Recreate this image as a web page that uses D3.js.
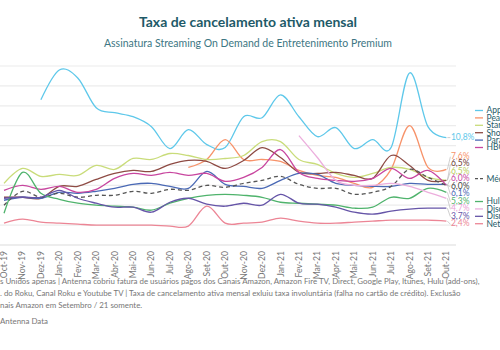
<!DOCTYPE html>
<html>
<head>
<meta charset="utf-8">
<script src="https://cdn.jsdelivr.net/npm/d3@7"></script>
<style>
  body { margin: 0; overflow: hidden; background: #fff; }
  svg { display: block; }
</style>
</head>
<body>
<svg></svg>
<script>
var months = ["Oct-19", "Nov-19", "Dez-19", "Jan-20", "Fev-20", "Mar-20", "Abr-20", "Mai-20", "Jun-20",
  "Jul-20", "Ago-20", "Set-20", "Out-20", "Nov-20", "Dez-20", "Jan-21", "Fev-21", "Mar-21", "Apr-21",
  "Mai-21", "Jun-21", "Jul-21", "Ago-21", "Set-21", "Out-21"];

var apple     = [null, null, 14.6, 17.6, 16.8, 13.8, 13.3, 12.9, 11.9, 9.7, 11.6, 10.1, 9.8, 12.9, 12.8, 15.1, 12.9, 10.9, 11.8, 9.7, 10.6, 9.8, 17.3, 11.9, 10.8];
var peacock   = [null, null, null, null, null, null, null, null, null, null, 7.8, 8.6, 10.6, 8.6, 8.6, 8.4, 7.5, 7.0, 6.8, 6.2, 5.8, 7.6, 12.0, 7.8, 7.6];
var starz     = [6.2, 7.7, 6.9, 7.1, 7.0, 8.0, 7.6, 8.7, 8.6, 9.2, 9.0, 8.6, 8.7, 9.0, 10.4, 10.4, 8.6, 8.1, 7.2, 6.8, 7.2, 7.8, 7.6, 6.8, 6.5];
var showtime  = [4.8, 4.8, 4.7, 5.9, 5.9, 6.6, 7.2, 7.5, 7.4, 8.1, 8.5, 8.4, 7.7, 8.5, 9.8, 8.8, 7.3, 7.2, 7.3, 7.0, 6.7, 9.0, 8.0, 6.5, 6.5];
var paramount = [4.5, 4.8, 4.7, 5.3, 5.2, 5.4, 5.7, 6.1, 6.2, 5.9, 5.7, 7.4, 6.1, 5.9, 5.7, 6.5, 7.2, 7.1, 6.2, 6.0, 5.9, 5.9, 6.2, 6.1, 6.1];
var hboMax    = [5.5, 6.0, 5.6, 5.9, 5.3, 5.6, 6.7, 7.2, 7.0, 7.3, 7.0, 7.2, 6.4, 6.8, 7.8, 9.6, 7.3, 6.7, 6.5, 6.4, 6.7, 7.7, 6.7, 7.5, 6.0];
var media     = [4.0, 5.4, 4.8, 5.2, 4.8, 5.0, 5.0, 5.4, 5.2, 5.6, 5.5, 6.0, 5.8, 6.2, 6.5, 6.9, 6.1, 5.7, 5.7, 5.1, 5.3, 5.9, 7.6, 6.8, 6.0];
var hulu      = [3.2, 7.3, 5.2, 4.6, 4.2, 4.0, 3.9, 3.8, 3.5, 4.2, 4.7, 5.0, 5.1, 5.0, 4.8, 4.3, 4.2, 4.1, 4.0, 3.7, 3.8, 4.8, 4.7, 5.7, 5.3];
var discovery = [null, null, null, null, null, null, null, null, null, null, null, null, null, null, null, null, 11.0, 8.8, 6.5, 6.0, 6.0, 6.2, 5.9, 5.3, 4.7];
var disney    = [4.7, 4.8, 4.8, 5.5, 4.7, 4.2, 3.8, 3.8, 3.3, 4.3, 4.7, 4.1, 3.9, 4.2, 4.0, 5.1, 4.2, 4.1, 3.8, 3.3, 3.1, 3.4, 3.6, 3.7, 3.7];
var netflix   = [2.2, 2.6, 2.3, 2.2, 2.1, 2.0, 2.0, 2.0, 2.0, 1.9, 1.9, 3.9, 2.2, 2.2, 2.3, 2.7, 2.4, 2.2, 2.2, 2.3, 2.4, 2.5, 2.5, 2.5, 2.4];

var names = ["Apple TV+", "Peacock", "Starz", "Showtime", "Paramount+", "HBO Max", "Média", "Hulu", "Discovery+", "Disney+", "Netflix"];
var endLabels = ["10,8%", "7,6%", "6,5%", "6,5%", "6,1%", "6,0%", "6,0%", "5,3%", "4,7%", "3,7%", "2,4%"];
// order of the end labels top to bottom (index into names)
var labelOrder = [0, 1, 3, 2, 5, 6, 4, 7, 8, 9, 10];
var yTicks = [0, 2, 4, 6, 8, 10, 12, 14, 16, 18];

var allValues = [apple, peacock, starz, showtime, paramount, hboMax, media, hulu, discovery, disney, netflix];
var colors = ["#5ec8ea", "#f7936a", "#c9dc7a", "#8e4b44", "#4a69b5", "#c8469f", "#555555", "#4fb36c", "#ecaedd", "#6655a8", "#ec8595"];
var labelColors = ["#5ec8ea", "#f7936a", "#b9cf5e", "#6e3b35", "#4a69b5", "#c8469f", "#444444", "#4fb36c", "#e9a2d6", "#6655a8", "#ec8595"];

var svgWidth = 500, svgHeight = 350;
var svg = d3.select("svg").attr("width", svgWidth).attr("height", svgHeight);
var font = "Lato, 'Open Sans', sans-serif";

var x = d3.scalePoint().domain(months).range([-5.2, 455.6]).padding(0.5);
var y = d3.scaleLinear().domain([0, 18]).range([245, 66]);

// title
svg.append("text")
    .attr("x", 248).attr("y", 27)
    .attr("text-anchor", "middle")
    .style("font-family", font).style("font-weight", "bold")
    .style("font-size", "14px").style("fill", "#1e5a68")
    .text("Taxa de cancelamento ativa mensal");

svg.append("text")
    .attr("x", 248).attr("y", 47)
    .attr("text-anchor", "middle")
    .style("font-family", font)
    .style("font-size", "10.5px").style("fill", "#3d7683")
    .text("Assinatura Streaming On Demand de Entretenimento Premium");

// gridlines
svg.append("g")
    .selectAll("line")
    .data(yTicks)
    .enter()
    .append("line")
    .attr("x1", -5).attr("x2", 456)
    .attr("y1", function (d) { return y(d); })
    .attr("y2", function (d) { return y(d); })
    .style("stroke", function (d) { return d === 0 ? "#dcdcdc" : "#ececec"; })
    .style("stroke-width", 1.2);

// x labels
svg.append("g")
    .selectAll("text")
    .data(months)
    .enter()
    .append("text")
    .attr("transform", function (d) { return "translate(" + x(d) + ",251)rotate(-90)"; })
    .attr("dy", "0.35em")
    .attr("text-anchor", "end")
    .style("font-family", font).style("font-size", "8.6px").style("fill", "#777")
    .text(function (d) { return d; });

// series lines
var line = d3.line()
    .defined(function (d) { return d != null; })
    .x(function (d, i) { return x(months[i]); })
    .y(function (d) { return y(d); })
    .curve(d3.curveCatmullRom.alpha(0));

svg.append("g")
    .selectAll("path")
    .data(allValues)
    .enter()
    .append("path")
    .attr("d", line)
    .style("fill", "none")
    .style("stroke", function (d, i) { return colors[i]; })
    .style("stroke-width", 1.3)
    .style("stroke-dasharray", function (d, i) { return names[i] === "Média" ? "4,3" : null; });

// end labels, spread apart so they do not overlap
var xEnd = x(months[months.length - 1]);
var lastIdx = months.length - 1;
var labelY = labelOrder.map(function (k) { return y(allValues[k][lastIdx]); });
var gap = 7.5;
for (var it = 0; it < 200; it++) {
    for (var j = 0; j < labelY.length - 1; j++) {
        var diff = labelY[j + 1] - labelY[j];
        if (diff < gap) {
            labelY[j] -= (gap - diff) / 2;
            labelY[j + 1] += (gap - diff) / 2;
        }
    }
}

var labels = svg.append("g");
labelOrder.forEach(function (k, j) {
    labels.append("path")
        .attr("d", "M" + (xEnd + 1) + "," + y(allValues[k][lastIdx]) + "L" + (xEnd + 4) + "," + labelY[j])
        .style("fill", "none").style("stroke", "#bbb").style("stroke-width", 0.7);
    labels.append("text")
        .attr("x", xEnd + 4.5).attr("y", labelY[j] - 1)
        .attr("dy", "0.35em")
        .style("font-family", font).style("font-size", "8.5px")
        .style("fill", labelColors[k])
        .text(endLabels[k]);
});

// legend
var legendSlots = [0, 1, 2, 3, 4, 5, 9.2, 12.3, 13.3, 14.3, 15.3];
var legend = svg.append("g");
names.forEach(function (n, i) {
    var ly = 110.5 + legendSlots[i] * 7.4;
    legend.append("line")
        .attr("x1", 475).attr("x2", 483)
        .attr("y1", ly).attr("y2", ly)
        .style("stroke", colors[i]).style("stroke-width", 1.3)
        .style("stroke-dasharray", n === "Média" ? "3,2" : null);
    legend.append("text")
        .attr("x", 486.5).attr("y", ly)
        .attr("dy", "0.35em")
        .style("font-family", font).style("font-size", "8.5px").style("fill", "#1e5a68")
        .text(n);
});

// footnote
var notes = [
    "s Unidos apenas | Antenna cobriu fatura de usuários pagos dos Canais Amazon, Amazon Fire TV, Direct, Google Play, Itunes, Hulu (add-ons),",
    ". do Roku, Canal Roku e Youtube TV | Taxa de cancelamento ativa mensal exluiu taxa involuntária (falha no cartão de crédito). Exclusão",
    "nais Amazon em Setembro / 21 somente."
];
svg.append("g")
    .selectAll("text")
    .data(notes)
    .enter()
    .append("text")
    .attr("x", 0)
    .attr("y", function (d, i) { return 284 + i * 11.8; })
    .style("font-family", font).style("font-size", "7.9px").style("fill", "#777")
    .text(function (d) { return d; });

svg.append("text")
    .attr("x", 0).attr("y", 324)
    .style("font-family", font).style("font-size", "7.9px").style("fill", "#777")
    .text("Antenna Data");
</script>
</body>
</html>
